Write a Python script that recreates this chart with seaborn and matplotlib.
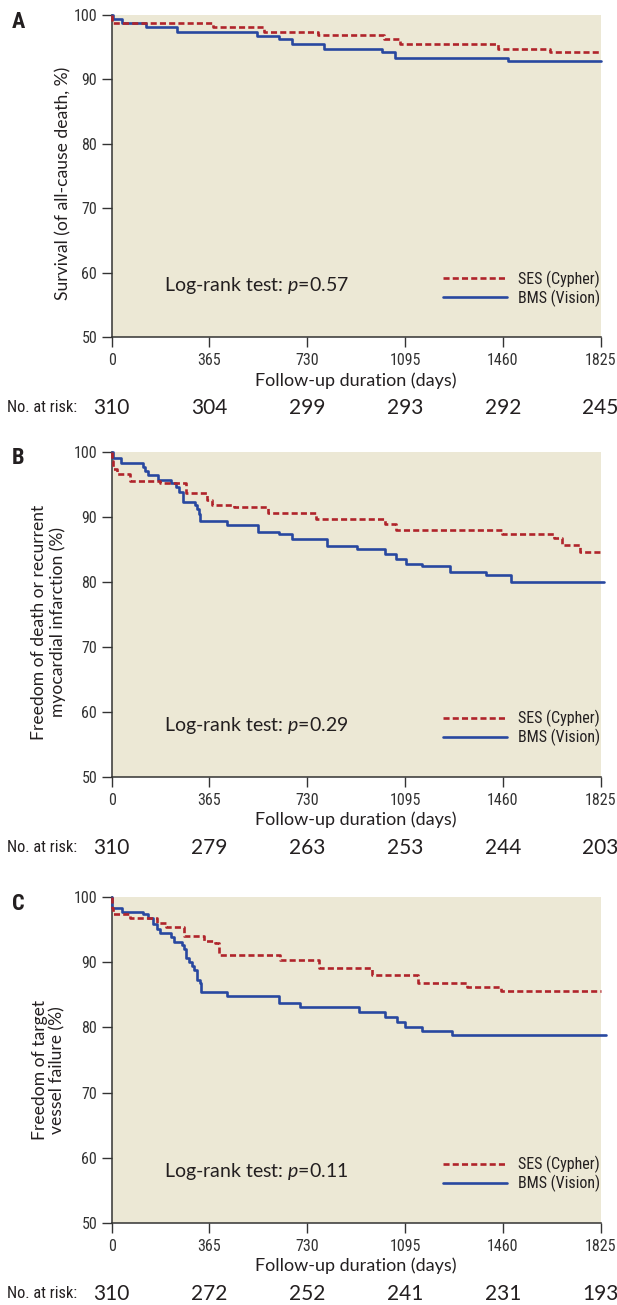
import matplotlib
matplotlib.use("Agg")
import matplotlib.pyplot as plt
import matplotlib.transforms as mtransforms
from matplotlib import font_manager
import seaborn as sns
import pandas as pd

# ---------------- data ----------------
x_ticks = [0, 365, 730, 1095, 1460, 1825]
y_ticks = [50, 60, 70, 80, 90, 100]
group_labels = ["SES (Cypher)", "BMS (Vision)"]
panel_letters = ["A", "B", "C"]
y_titles = ["Survival (of all-cause death, %)",
            "Freedom of death or recurrent\nmyocardial infarction (%)",
            "Freedom of target\nvessel failure (%)"]
p_values = ["0.57", "0.29", "0.11"]

ses_a_days = [0, 2, 379, 567, 771, 1016, 1076, 1443, 1635, 1825]
ses_a_surv = [100, 98.7, 98.2, 97.4, 96.9, 96.2, 95.5, 94.7, 94.3, 94.3]
bms_a_days = [0, 3, 37, 128, 243, 544, 623, 674, 792, 1010, 1057, 1481, 1825]
bms_a_surv = [100, 99.4, 98.7, 98.1, 97.4, 96.8, 96.2, 95.5, 94.7, 94.2, 93.4, 92.8, 92.8]
risk_a = [310, 304, 299, 293, 292, 245]

ses_b_days = [0, 2, 5, 19, 68, 181, 278, 355, 374, 455, 585, 762, 1020, 1061, 1458, 1652, 1683, 1750, 1825]
ses_b_surv = [100, 98.5, 97.4, 96.5, 95.5, 95.2, 93.7, 92.6, 91.8, 91.5, 90.6, 89.6, 88.9, 88.0, 87.3, 86.7, 85.6, 84.6, 84.6]
bms_b_days = [0, 3, 34, 116, 125, 134, 174, 222, 241, 250, 266, 312, 318, 327, 331, 430, 548, 626, 675,
              803, 917, 1020, 1061, 1097, 1157, 1263, 1396, 1492, 1838]
bms_b_surv = [100, 99.0, 98.2, 97.7, 97.0, 96.4, 95.7, 95.15, 94.6, 93.8, 92.3, 91.8, 91.2, 90.4, 89.4, 88.7,
              87.7, 87.3, 86.5, 85.5, 85.1, 84.2, 83.5, 82.8, 82.4, 81.5, 81.0, 80.0, 80.0]
risk_b = [310, 279, 263, 253, 244, 203]

ses_c_days = [0, 1, 3, 68, 168, 203, 270, 346, 386, 399, 629, 774, 973, 1145, 1327, 1455, 1825]
ses_c_surv = [100, 98.4, 97.4, 96.8, 96.0, 95.4, 94.0, 93.3, 93.0, 91.2, 90.4, 89.2, 88.1, 86.9, 86.2, 85.6, 85.6]
bms_c_days = [0, 2, 37, 118, 137, 156, 168, 181, 220, 233, 262, 270, 278, 287, 299, 309, 318, 328, 333,
              432, 626, 703, 924, 1020, 1064, 1094, 1160, 1271, 1845]
bms_c_surv = [100, 98.4, 97.8, 97.4, 96.8, 95.9, 95.2, 94.5, 93.9, 93.2, 92.6, 92.0, 90.7, 90.0, 89.4,
              88.8, 87.3, 86.8, 85.5, 84.8, 83.75, 83.1, 82.3, 81.6, 80.8, 80.05, 79.4, 78.8, 78.8]
risk_c = [310, 272, 252, 241, 231, 193]

panels = [
    (ses_a_days, ses_a_surv, bms_a_days, bms_a_surv, risk_a),
    (ses_b_days, ses_b_surv, bms_b_days, bms_b_surv, risk_b),
    (ses_c_days, ses_c_surv, bms_c_days, bms_c_surv, risk_c),
]

# ---------------- style ----------------
sns.set_style("ticks")
names = {f.name for f in font_manager.fontManager.ttflist}
regular = "Lato" if "Lato" in names else "DejaVu Sans"
narrow_stretch = "normal"
if "Liberation Sans Narrow" in names:
    narrow = "Liberation Sans Narrow"
elif "Roboto Condensed" in names:
    narrow = "Roboto Condensed"
else:
    narrow = "DejaVu Sans"
    narrow_stretch = "condensed"

plt.rcParams["font.family"] = [regular, "DejaVu Sans"]
plt.rcParams["mathtext.fontset"] = "custom"
plt.rcParams["mathtext.rm"] = regular
plt.rcParams["mathtext.it"] = regular + ":italic"

RED = "#B0242B"
BLUE = "#2848A0"
BG = "#ECE8D5"
AX = "#333333"
TXT = "#231F20"

W, H = 617, 1305
fig = plt.figure(figsize=(W / 100, H / 100), dpi=100)

left_px, right_px = 111.7, 600.5
tops = [15.0, 451.7, 897.3]
bottoms = [337.0, 776.7, 1222.7]

for i, (sd, ss, bd, bs, risk) in enumerate(panels):
    t, b = tops[i], bottoms[i]
    ax = fig.add_axes([left_px / W, 1 - b / H, (right_px - left_px) / W, (b - t) / H])
    ax.set_facecolor(BG)

    df_ses = pd.DataFrame({"day": sd, "surv": ss})
    df_bms = pd.DataFrame({"day": bd, "surv": bs})
    sns.lineplot(data=df_ses, x="day", y="surv", ax=ax, color=RED, lw=1.9,
                 linestyle=(0, (2.3, 1.2)), drawstyle="steps-post", estimator=None,
                 label=group_labels[0], clip_on=False, zorder=4)
    sns.lineplot(data=df_bms, x="day", y="surv", ax=ax, color=BLUE, lw=1.9,
                 drawstyle="steps-post", estimator=None,
                 label=group_labels[1], clip_on=False, zorder=3)

    ax.set_xlim(0, 1825)
    ax.set_ylim(50, 100)
    ax.set_xticks(x_ticks)
    ax.set_yticks(y_ticks)
    ax.set_xlabel("")
    ax.set_ylabel("")
    for s in ["top", "right"]:
        ax.spines[s].set_visible(False)
    for s in ["left", "bottom"]:
        ax.spines[s].set_color(AX)
        ax.spines[s].set_linewidth(1.1)
    ax.tick_params(axis="both", direction="out", length=7.5, width=1.0, color=AX,
                   labelcolor=AX, labelsize=11.5)
    ax.tick_params(axis="x", pad=4)
    ax.tick_params(axis="y", pad=3)
    for lab in ax.get_xticklabels() + ax.get_yticklabels():
        lab.set_fontfamily(narrow)
        lab.set_fontstretch(narrow_stretch)

    hpx = b - t
    leg = ax.legend(loc="center right", bbox_to_anchor=(1.0, 48.5 / hpx),
                    frameon=False, handlelength=4.0, handletextpad=0.7, labelspacing=0.12,
                    borderpad=0, borderaxespad=0,
                    prop={"family": narrow, "stretch": narrow_stretch, "size": 11.5})
    for txt in leg.get_texts():
        txt.set_color(TXT)

    ax.text(0.108, 51.5 / hpx, r"Log-rank test: $p$=" + p_values[i], transform=ax.transAxes,
            ha="left", va="center", fontsize=14, color=TXT)

    # y title
    if i == 0:
        ax.text(-(left_px - 63) / (right_px - left_px), (b - 183) / hpx, y_titles[i],
                transform=ax.transAxes, rotation=90, ha="center", va="center",
                fontsize=12.6, color=TXT)
    else:
        cy = 622 if i == 1 else 1070
        ax.text(-(left_px - 48.5) / (right_px - left_px), (b - cy) / hpx, y_titles[i],
                transform=ax.transAxes, rotation=90, ha="center", va="center",
                fontsize=12.6, color=TXT, linespacing=1.12, multialignment="center")

    # x title
    ax.text(0.5, -43.5 / hpx, "Follow-up duration (days)", transform=ax.transAxes,
            ha="center", va="center", fontsize=13, color=TXT)

    # at-risk row
    trans = mtransforms.blended_transform_factory(ax.transData, ax.transAxes)
    for xv, n in zip(x_ticks, risk):
        ax.text(xv, -71 / hpx, str(n), transform=trans, ha="center", va="center",
                fontsize=15, color=TXT)
    fig.text(7 / W, 1 - (b + 71) / H, "No. at risk:", ha="left", va="center",
             fontsize=11.8, color=TXT, family=narrow, stretch=narrow_stretch)

    # panel letter
    fig.text(18 / W, 1 - (t + 6.5) / H, panel_letters[i], ha="center", va="center",
             fontsize=16, fontweight="bold", color=TXT, family=narrow, stretch=narrow_stretch)

fig.savefig("out.png", dpi=100, facecolor="white")
